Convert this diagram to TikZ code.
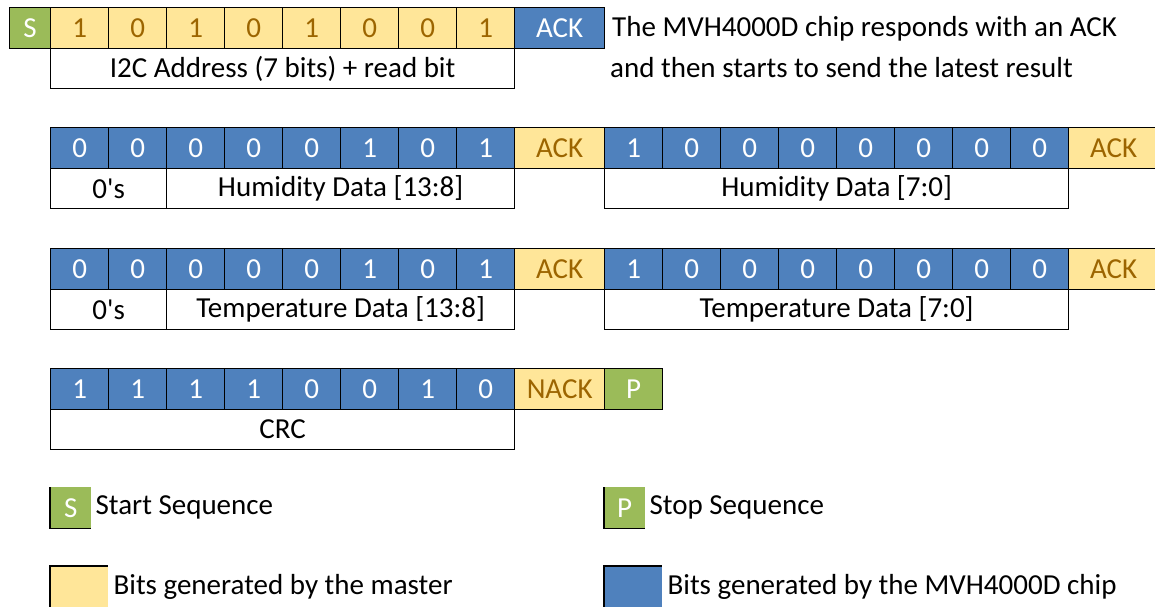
\documentclass[tikz,border=0pt]{standalone}
\usepackage{fontspec}
\setmainfont{Carlito}[Ligatures=TeXOff]
\usetikzlibrary{positioning}
\definecolor{cgreen}{HTML}{9BBB59}
\definecolor{cyel}{HTML}{FFE699}
\definecolor{cblue}{HTML}{4F81BD}
\definecolor{cgold}{HTML}{9C6500}
\begin{document}
\begin{tikzpicture}[x=1pt,y=-1pt,
  font=\fontsize{29}{34}\selectfont,
  cell/.style={draw=black, line width=1.3pt, inner sep=0pt, anchor=north west, minimum height=41pt, minimum width=58pt},
  wide/.style={minimum width=90pt},
  narrow/.style={minimum width=41pt},
  master/.style={cell, fill=cyel, text=cgold},
  chip/.style={cell, fill=cblue, text=white},
  seq/.style={cell, fill=cgreen, text=white},
  lab/.style={draw=black, line width=1.3pt, inner sep=0pt, anchor=north west, minimum height=40pt, text=black},
  note/.style={anchor=west, inner sep=0pt, text=black},
  legbox/.style={inner sep=0pt, anchor=north west, minimum height=41pt, text=white},
  legedge/.style={draw=black, line width=1.6pt}
]
\useasboundingbox (0,0) rectangle (1155,606);

% ---------- Row 1: address ----------
\node[seq, narrow] (r1s) at (9,7) {S};
\foreach \b [count=\i from 0] in {1,0,1,0,1,0,0,1}
  \node[master] (r1b\i) at ({50+58*\i},7) {\b};
\node[chip, wide] (r1ack) at (514,7) {ACK};
\node[lab, minimum width=464pt] (r1lab) at (50,48) {I2C Address (7 bits) + read bit};
\node[note] (note1) at (612,29) {The MVH4000D chip responds with an ACK};
\node[note] (note2) at (610,68) {and then starts to send the latest result};

% ---------- Row 2: humidity ----------
\foreach \b [count=\i from 0] in {0,0,0,0,0,1,0,1}
  \node[chip] (r2a\i) at ({50+58*\i},127) {\b};
\node[master, wide] (r2ack1) at (514,127) {ACK};
\foreach \b [count=\i from 0] in {1,0,0,0,0,0,0,0}
  \node[chip] (r2b\i) at ({604+58*\i},127) {\b};
\node[master, wide] (r2ack2) at (1068,127) {ACK};
\node[lab, minimum width=116pt] (r2z) at (50,168) {0's};
\node[lab, minimum width=348pt] (r2h) at (166,168) {Humidity Data [13:8]};
\node[lab, minimum width=464pt] (r2l) at (604,168) {Humidity Data [7:0]};

% ---------- Row 3: temperature ----------
\foreach \b [count=\i from 0] in {0,0,0,0,0,1,0,1}
  \node[chip] (r3a\i) at ({50+58*\i},248) {\b};
\node[master, wide] (r3ack1) at (514,248) {ACK};
\foreach \b [count=\i from 0] in {1,0,0,0,0,0,0,0}
  \node[chip] (r3b\i) at ({604+58*\i},248) {\b};
\node[master, wide] (r3ack2) at (1068,248) {ACK};
\node[lab, minimum width=116pt] (r3z) at (50,289) {0's};
\node[lab, minimum width=348pt] (r3h) at (166,289) {Temperature Data [13:8]};
\node[lab, minimum width=464pt] (r3l) at (604,289) {Temperature Data [7:0]};

% ---------- Row 4: CRC ----------
\foreach \b [count=\i from 0] in {1,1,1,1,0,0,1,0}
  \node[chip] (r4a\i) at ({50+58*\i},368) {\b};
\node[master, wide] (r4nack) at (514,368) {NACK};
\node[seq] (r4p) at (604,368) {P};
\node[lab, minimum width=464pt] (r4crc) at (50,409) {CRC};

% ---------- Legend ----------
\node[legbox, fill=cgreen, minimum width=41pt] (legS) at (50,487) {S};
\draw[legedge] (legS.north west) -- (legS.south west) -- (legS.south east);
\node[note, right=4pt of legS.east, anchor=west] (legStxt) {Start Sequence};

\node[legbox, fill=cgreen, minimum width=41pt] (legP) at (604,487) {P};
\draw[legedge] (legP.north west) -- (legP.south west) -- (legP.south east);
\node[note, right=4pt of legP.east, anchor=west] (legPtxt) {Stop Sequence};

\node[legbox, fill=cyel, minimum width=58pt] (legM) at (50,566) {};
\draw[legedge] (legM.south west) -- (legM.north west) -- (legM.north east);
\node[note, right=5pt of legM.east, anchor=west] (legMtxt) {Bits generated by the master};

\node[legbox, fill=cblue, minimum width=58pt] (legC) at (604,566) {};
\draw[legedge] (legC.south west) -- (legC.north west) -- (legC.north east);
\node[note, right=5pt of legC.east, anchor=west] (legCtxt) {Bits generated by the MVH4000D chip};
\end{tikzpicture}
\end{document}
